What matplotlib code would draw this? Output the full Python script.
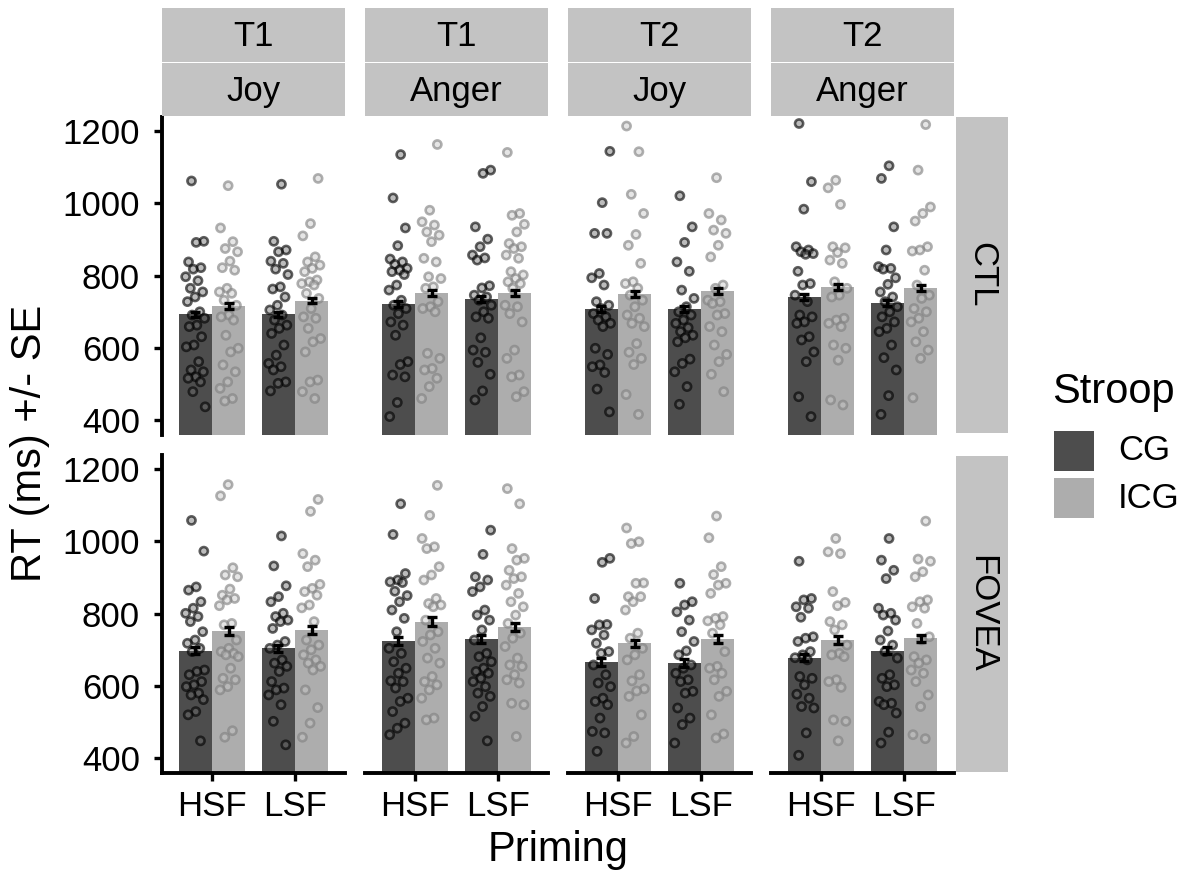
import matplotlib
matplotlib.use("Agg")
import matplotlib.pyplot as plt
from matplotlib.patches import Rectangle
import numpy as np

plt.rcParams['font.family'] = ['Liberation Sans', 'DejaVu Sans']

# ---------------- data ----------------
times = ["T1", "T1", "T2", "T2"]
emotions = ["Joy", "Anger", "Joy", "Anger"]
groups = ["CTL", "FOVEA"]
priming = ["HSF", "LSF"]
stroop = ["CG", "ICG"]

# bar means: per column, [HSF-CG, HSF-ICG, LSF-CG, LSF-ICG]
means_ctl = [[693, 716, 693, 730], [721, 753, 735, 753], [707, 749, 707, 757], [741, 769, 725, 766]]
means_fovea = [[697, 752, 704, 755], [723, 778, 730, 764], [666, 718, 663, 730], [678, 727, 697, 732]]
se_ctl = [[7, 7, 7, 7], [8, 8, 8, 8], [8, 8, 8, 8], [8, 8, 8, 8]]
se_fovea = [[10, 11, 10, 10], [11, 12, 11, 11], [11, 10, 11, 12], [10, 10, 10, 10]]

# individual participant points
ctl_t1joy_hsf_cg = [1062, 895, 892, 838, 822, 818, 797, 786, 765, 755, 741, 728, 700, 691, 682, 663, 659, 631, 608, 603, 562, 539, 534, 520, 516, 506, 479, 437]
ctl_t1joy_hsf_icg = [1049, 932, 894, 875, 866, 840, 822, 815, 765, 755, 751, 732, 718, 691, 686, 677, 635, 599, 589, 553, 534, 506, 488, 460, 453]
ctl_t1joy_lsf_cg = [1053, 895, 871, 866, 840, 834, 818, 803, 769, 763, 741, 718, 705, 691, 677, 663, 654, 640, 608, 580, 557, 548, 539, 506, 502, 481]
ctl_t1joy_lsf_icg = [1069, 944, 910, 852, 838, 829, 820, 811, 788, 783, 778, 774, 751, 737, 709, 686, 682, 654, 626, 617, 589, 511, 506, 479, 460]

ctl_t1ang_hsf_cg = [1135, 1015, 932, 883, 846, 838, 831, 820, 815, 811, 803, 774, 760, 732, 718, 709, 695, 672, 663, 635, 562, 554, 525, 520, 449, 410]
ctl_t1ang_hsf_icg = [1163, 981, 949, 940, 921, 912, 894, 848, 838, 797, 792, 769, 765, 728, 714, 709, 700, 585, 571, 543, 539, 516, 493, 460]
ctl_t1ang_lsf_cg = [1092, 1083, 935, 901, 880, 857, 849, 843, 772, 766, 746, 741, 732, 718, 700, 686, 682, 628, 594, 588, 560, 527, 481, 456]
ctl_t1ang_lsf_icg = [1141, 972, 967, 942, 921, 889, 880, 875, 857, 848, 811, 802, 792, 783, 778, 765, 718, 714, 695, 672, 594, 571, 525, 520, 479, 465]

ctl_t2joy_hsf_cg = [1144, 1002, 917, 917, 806, 794, 774, 728, 718, 709, 695, 686, 677, 668, 659, 599, 582, 553, 548, 532, 486, 423]
ctl_t2joy_hsf_icg = [1214, 1143, 1025, 972, 914, 884, 834, 783, 778, 765, 746, 732, 714, 691, 682, 668, 659, 612, 588, 571, 554, 471, 416]
ctl_t2joy_lsf_cg = [1021, 935, 892, 838, 812, 760, 737, 714, 700, 691, 677, 668, 656, 645, 635, 628, 617, 569, 557, 534, 493, 444]
ctl_t2joy_lsf_icg = [1071, 972, 954, 926, 917, 884, 852, 774, 765, 732, 728, 723, 695, 691, 659, 645, 608, 582, 562, 527, 479]

ctl_t2ang_hsf_cg = [1221, 1060, 984, 880, 871, 866, 861, 859, 812, 778, 774, 746, 728, 691, 686, 672, 668, 631, 622, 589, 562, 465, 410]
ctl_t2ang_hsf_icg = [1064, 1043, 997, 880, 877, 864, 843, 834, 783, 765, 746, 741, 682, 677, 668, 659, 608, 599, 566, 456, 442]
ctl_t2ang_lsf_cg = [1104, 1069, 935, 871, 825, 820, 818, 794, 776, 755, 741, 728, 714, 700, 686, 672, 654, 645, 608, 573, 539, 468, 416]
ctl_t2ang_lsf_icg = [1218, 1092, 990, 972, 951, 880, 871, 868, 815, 774, 746, 737, 709, 700, 682, 672, 645, 617, 594, 571, 462]

fov_t1joy_hsf_cg = [1058, 973, 874, 865, 833, 815, 801, 792, 778, 750, 727, 718, 704, 695, 644, 640, 631, 612, 603, 598, 580, 575, 562, 529, 520, 448]
fov_t1joy_hsf_icg = [1157, 1126, 927, 907, 902, 868, 851, 842, 838, 822, 773, 769, 727, 704, 695, 690, 686, 681, 649, 621, 617, 598, 589, 476, 458]
fov_t1joy_lsf_cg = [1015, 932, 877, 847, 833, 801, 792, 782, 778, 759, 723, 713, 704, 672, 663, 654, 640, 612, 594, 589, 575, 548, 502, 437]
fov_t1joy_lsf_icg = [1116, 1083, 966, 948, 930, 881, 870, 861, 851, 824, 816, 778, 727, 713, 700, 686, 672, 663, 654, 644, 589, 540, 497, 458]

fov_t1ang_hsf_cg = [1104, 1019, 911, 893, 888, 886, 862, 850, 833, 810, 787, 750, 704, 690, 667, 649, 635, 614, 612, 594, 566, 557, 529, 497, 483, 465]
fov_t1ang_hsf_icg = [1155, 1072, 1008, 985, 980, 930, 907, 893, 842, 828, 824, 819, 782, 750, 741, 723, 704, 677, 663, 626, 612, 603, 589, 566, 511, 506]
fov_t1ang_lsf_cg = [1031, 964, 902, 893, 874, 861, 810, 796, 782, 755, 727, 690, 681, 667, 649, 640, 635, 621, 612, 598, 580, 571, 543, 516, 448]
fov_t1ang_lsf_icg = [1146, 1104, 980, 953, 948, 920, 902, 897, 879, 856, 833, 819, 796, 773, 746, 732, 709, 677, 658, 654, 631, 617, 608, 552, 548, 460]

fov_t2joy_hsf_cg = [953, 942, 842, 770, 769, 755, 741, 718, 695, 690, 658, 631, 608, 598, 566, 557, 548, 511, 474, 470, 419]
fov_t2joy_hsf_icg = [1037, 999, 994, 885, 884, 847, 847, 833, 810, 746, 732, 704, 686, 672, 631, 614, 592, 586, 571, 520, 460, 442]
fov_t2joy_lsf_cg = [884, 833, 824, 805, 782, 750, 723, 697, 686, 658, 649, 635, 617, 612, 585, 580, 539, 511, 493, 442]
fov_t2joy_lsf_icg = [1070, 1010, 930, 908, 884, 879, 856, 792, 787, 780, 769, 746, 695, 654, 649, 635, 617, 585, 571, 520, 467, 456]

fov_t2ang_hsf_cg = [945, 842, 838, 819, 815, 790, 736, 732, 723, 695, 686, 678, 672, 626, 621, 603, 577, 566, 543, 539, 470, 408]
fov_t2ang_hsf_icg = [1008, 971, 966, 861, 831, 822, 778, 769, 755, 713, 690, 686, 681, 617, 612, 596, 506, 502, 448]
fov_t2ang_lsf_cg = [1008, 948, 920, 897, 815, 801, 796, 782, 752, 727, 713, 695, 677, 631, 621, 603, 598, 557, 552, 548, 525, 472, 442]
fov_t2ang_lsf_icg = [1056, 951, 945, 916, 902, 838, 833, 819, 815, 773, 736, 727, 681, 672, 663, 644, 635, 612, 575, 543, 465, 454]

points = {
    "CTL": [
        [ctl_t1joy_hsf_cg, ctl_t1joy_hsf_icg, ctl_t1joy_lsf_cg, ctl_t1joy_lsf_icg],
        [ctl_t1ang_hsf_cg, ctl_t1ang_hsf_icg, ctl_t1ang_lsf_cg, ctl_t1ang_lsf_icg],
        [ctl_t2joy_hsf_cg, ctl_t2joy_hsf_icg, ctl_t2joy_lsf_cg, ctl_t2joy_lsf_icg],
        [ctl_t2ang_hsf_cg, ctl_t2ang_hsf_icg, ctl_t2ang_lsf_cg, ctl_t2ang_lsf_icg],
    ],
    "FOVEA": [
        [fov_t1joy_hsf_cg, fov_t1joy_hsf_icg, fov_t1joy_lsf_cg, fov_t1joy_lsf_icg],
        [fov_t1ang_hsf_cg, fov_t1ang_hsf_icg, fov_t1ang_lsf_cg, fov_t1ang_lsf_icg],
        [fov_t2joy_hsf_cg, fov_t2joy_hsf_icg, fov_t2joy_lsf_cg, fov_t2joy_lsf_icg],
        [fov_t2ang_hsf_cg, fov_t2ang_hsf_icg, fov_t2ang_lsf_cg, fov_t2ang_lsf_icg],
    ],
}
means = {"CTL": means_ctl, "FOVEA": means_fovea}
ses = {"CTL": se_ctl, "FOVEA": se_fovea}

# ---------------- style ----------------
W, H = 1192, 877
bar_colors = {"CG": "#4D4D4D", "ICG": "#ADADAD"}
pt_edge = {"CG": (0, 0, 0, 0.62), "ICG": (0.50, 0.50, 0.50, 0.62)}
pt_face = {"CG": (0.42, 0.42, 0.42, 0.45), "ICG": (0.78, 0.78, 0.78, 0.45)}
strip_col = "#C3C3C3"
FS_TICK = 25
FS_STRIP = 25
FS_TITLE = 30

fig = plt.figure(figsize=(W / 100, H / 100), dpi=100)


def fbox(x0, y0, x1, y1):
    return [x0 / W, 1 - y1 / H, (x1 - x0) / W, (y1 - y0) / H]


col_x = [162, 365, 568, 771]
col_w = 183
row_y = [(117, 435), (455, 773)]

for r, grp in enumerate(groups):
    for c in range(4):
        ax = fig.add_axes(fbox(col_x[c], row_y[r][0], col_x[c] + col_w, row_y[r][1]))
        ax.set_xlim(0.4, 2.6)
        ax.set_ylim(359, 1239)
        k = 0
        for p, pr in enumerate(priming):
            for s, st in enumerate(stroop):
                xc = (p + 1) + (-0.2 if s == 0 else 0.2)
                m = means[grp][c][k]
                ax.bar(xc, m, width=0.4, bottom=0, color=bar_colors[st], zorder=1)
                vals = points[grp][c][k]
                n = len(vals)
                offs = np.array([((i * 0.6180339887 + 0.31 * (c + 1) + 0.17 * k) % 1.0) - 0.5 for i in range(n)]) * 0.24
                ax.scatter(xc + offs, vals, s=34, facecolors=[pt_face[st]] * n,
                           edgecolors=[pt_edge[st]] * n, linewidths=1.9, zorder=2)
                ax.errorbar(xc, m, yerr=ses[grp][c][k], fmt='none', ecolor='black',
                            elinewidth=2.4, capsize=3.5, capthick=2.4, zorder=3)
                k += 1
        for sp in ax.spines.values():
            sp.set_visible(False)
        ax.set_facecolor('white')
        if c == 0:
            ax.spines['left'].set_visible(True)
            ax.spines['left'].set_linewidth(2.8)
            ax.set_yticks([400, 600, 800, 1000, 1200])
            ax.tick_params(axis='y', length=6, width=2.4, labelsize=FS_TICK, pad=10, colors='black')
        else:
            ax.set_yticks([])
        if r == 1:
            ax.spines['bottom'].set_visible(True)
            ax.spines['bottom'].set_linewidth(2.8)
            ax.set_xticks([1, 2])
            ax.set_xticklabels(priming)
            ax.tick_params(axis='x', length=6, width=2.4, labelsize=FS_TICK, pad=6, colors='black')
        else:
            ax.set_xticks([])

# top strips
for c in range(4):
    x0 = col_x[c]
    fig.patches.append(Rectangle((x0 / W, 1 - 62 / H), col_w / W, 54 / H,
                                 transform=fig.transFigure, facecolor=strip_col, edgecolor='none'))
    fig.patches.append(Rectangle((x0 / W, 1 - 116 / H), col_w / W, 53 / H,
                                 transform=fig.transFigure, facecolor=strip_col, edgecolor='none'))
    fig.text((x0 + col_w / 2) / W, 1 - 36 / H, times[c], ha='center', va='center', fontsize=FS_STRIP)
    fig.text((x0 + col_w / 2) / W, 1 - 91 / H, emotions[c], ha='center', va='center', fontsize=FS_STRIP)

# right strips
for r, grp in enumerate(groups):
    y0, y1 = (117, 433) if r == 0 else (456, 772)
    fig.patches.append(Rectangle((956 / W, 1 - y1 / H), 52 / W, (y1 - y0) / H,
                                 transform=fig.transFigure, facecolor=strip_col, edgecolor='none'))
    fig.text(982 / W, 1 - ((y0 + y1) / 2) / H, grp, ha='center', va='center', fontsize=FS_STRIP, rotation=-90)

# axis titles
fig.text(30 / W, 1 - 443 / H, "RT (ms) +/- SE", rotation=90, ha='center', va='center', fontsize=FS_TITLE)
fig.text(558 / W, 1 - 850 / H, "Priming", ha='center', va='center', fontsize=FS_TITLE)

# legend
fig.text(1052 / W, 1 - 392 / H, "Stroop", ha='left', va='center', fontsize=FS_TITLE)
for i, st in enumerate(stroop):
    ky = 431 + i * 47
    fig.patches.append(Rectangle((1054 / W, 1 - (ky + 40) / H), 40 / W, 40 / H,
                                 transform=fig.transFigure, facecolor=bar_colors[st], edgecolor='none'))
    fig.text(1118 / W, 1 - (ky + 20) / H, st, ha='left', va='center', fontsize=FS_STRIP)

fig.savefig("out.png", dpi=100)
